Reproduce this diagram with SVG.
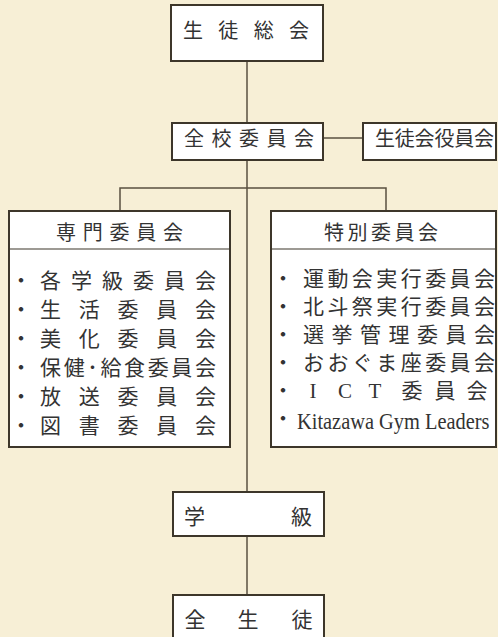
<svg xmlns="http://www.w3.org/2000/svg" width="498" height="637" viewBox="0 0 498 637">
<style>
.box{fill:#fff;stroke:#3d362a;stroke-width:2}
.ln{fill:none;stroke:#5a5040;stroke-width:1.5}
text{font-family:"Liberation Serif","Noto Sans CJK JP",serif;fill:#333}
.t20{font-size:20px}
.t21{font-size:21px}
.b{font-size:21px;text-anchor:middle}
</style>
<rect width="498" height="637" fill="#f7efd6"/>
<g id="connectors">
<line class="ln" x1="247" y1="61" x2="247" y2="595"/>
<line class="ln" x1="323" y1="138" x2="363" y2="138"/>
<path class="ln" d="M120,211 V188 H386 V211"/>
</g>
<g id="seitosoukai">
<rect class="box" x="171" y="5" width="152" height="56"/>
<text class="t20" x="183" y="38" textLength="126" lengthAdjust="spacing">生徒総会</text>
</g>
<g id="zenkou">
<rect class="box" x="172" y="123" width="151" height="37"/>
<text class="t20" x="184" y="146" textLength="130" lengthAdjust="spacing">全校委員会</text>
</g>
<g id="yakuin">
<rect class="box" x="363" y="123" width="133" height="37"/>
<text class="t20" x="375" y="146" textLength="119" lengthAdjust="spacing">生徒会役員会</text>
</g>
<g id="senmon">
<rect class="box" x="9" y="211" width="221" height="236"/>
<line x1="9" y1="249" x2="230" y2="249" stroke="#3d362a" stroke-width="1.2"/>
<text class="t20" x="56" y="240" textLength="127" lengthAdjust="spacing">専門委員会</text>
<text class="b" x="21" y="288">・</text>
<text class="t21" x="40" y="288" textLength="176" lengthAdjust="spacing">各学級委員会</text>
<text class="b" x="21" y="317">・</text>
<text class="t21" x="40" y="317" textLength="176" lengthAdjust="spacing">生活委員会</text>
<text class="b" x="21" y="346">・</text>
<text class="t21" x="40" y="346" textLength="176" lengthAdjust="spacing">美化委員会</text>
<text class="b" x="21" y="375">・</text>
<text class="t21" x="40" y="375" textLength="176" lengthAdjust="spacing">保健･給食委員会</text>
<text class="b" x="21" y="404">・</text>
<text class="t21" x="40" y="404" textLength="176" lengthAdjust="spacing">放送委員会</text>
<text class="b" x="21" y="433">・</text>
<text class="t21" x="40" y="433" textLength="176" lengthAdjust="spacing">図書委員会</text>
</g>
<g id="tokubetsu">
<rect class="box" x="271" y="211" width="225" height="236"/>
<line x1="271" y1="249" x2="496" y2="249" stroke="#3d362a" stroke-width="1.2"/>
<text class="t20" x="324" y="240" textLength="114" lengthAdjust="spacing">特別委員会</text>
<text class="b" x="283" y="286">・</text>
<text class="t21" x="303" y="286" textLength="192" lengthAdjust="spacing">運動会実行委員会</text>
<text class="b" x="283" y="314">・</text>
<text class="t21" x="303" y="314" textLength="192" lengthAdjust="spacing">北斗祭実行委員会</text>
<text class="b" x="283" y="342">・</text>
<text class="t21" x="303" y="342" textLength="192" lengthAdjust="spacing">選挙管理委員会</text>
<text class="b" x="283" y="370">・</text>
<text class="t21" x="303" y="370" textLength="192" lengthAdjust="spacing">おおぐま座委員会</text>
<text class="b" x="283" y="398">・</text>
<text class="b" x="313 345 375" y="398" font-size="24">ICT</text>
<text class="b" x="412 445 477" y="398">委員会</text>
<text class="b" x="283" y="426">・</text>
<text transform="translate(297,429) scale(0.85,1)" x="0" y="0" font-size="24">Kitazawa Gym Leaders</text>
</g>
<g id="gakkyu">
<rect class="box" x="173" y="492" width="151" height="44"/>
<text class="t21" x="184" y="524">学</text>
<text class="t21" x="291" y="524">級</text>
</g>
<g id="zenseito">
<rect class="box" x="173" y="595" width="151" height="50"/>
<text class="b" x="195 248 302" y="627">全生徒</text>
</g>
</svg>
